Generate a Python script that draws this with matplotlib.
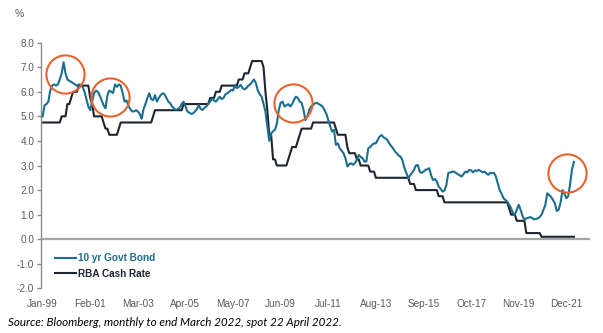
import matplotlib.pyplot as plt
import numpy as np

# 10 yr govt bond yield, monthly from Jan-99 (last value = spot Apr-22)
bond_10yr = [
    5.00, 5.45, 5.50, 5.60, 6.05, 6.25, 6.30, 6.25, 6.30, 6.50, 6.75, 7.20,   # 1999
    6.75, 6.50, 6.45, 6.40, 6.35, 6.30, 6.25, 6.30, 6.28, 6.20, 6.00, 5.70,   # 2000
    5.40, 5.25, 5.60, 5.95, 6.05, 6.00, 5.85, 5.65, 5.45, 5.33, 5.85, 6.05,   # 2001
    6.00, 5.95, 6.30, 6.20, 6.30, 6.25, 5.95, 5.60, 5.65, 5.45, 5.30, 5.20,   # 2002
    5.20, 5.25, 5.20, 5.10, 4.90, 5.30, 5.50, 5.75, 5.94, 5.70, 5.66, 5.86,   # 2003
    5.60, 5.75, 5.86, 5.94, 5.90, 5.75, 5.60, 5.53, 5.40, 5.33, 5.26, 5.30,   # 2004
    5.35, 5.50, 5.60, 5.40, 5.20, 5.15, 5.10, 5.12, 5.20, 5.30, 5.46, 5.30,   # 2005
    5.26, 5.35, 5.40, 5.53, 5.60, 5.73, 5.65, 5.60, 5.70, 5.80, 5.70, 5.75,   # 2006
    5.90, 5.94, 6.00, 6.07, 6.05, 6.28, 6.15, 6.20, 6.28, 6.15, 6.10, 6.15,   # 2007
    6.25, 6.30, 6.40, 6.50, 6.35, 6.05, 5.90, 5.80, 5.50, 5.20, 4.60, 4.00,   # 2008
    4.30, 4.40, 4.45, 4.70, 5.26, 5.55, 5.60, 5.40, 5.45, 5.50, 5.40, 5.50,   # 2009
    5.67, 5.80, 5.75, 5.60, 5.55, 5.26, 4.85, 5.00, 5.26, 5.40, 5.46, 5.53,   # 2010
    5.55, 5.50, 5.46, 5.40, 5.26, 5.10, 4.85, 4.60, 4.38, 4.45, 3.84, 3.90,   # 2011
    3.70, 3.60, 3.50, 3.30, 2.96, 3.05, 3.09, 3.03, 3.10, 3.23, 3.43, 3.35,   # 2012
    3.30, 3.16, 3.16, 3.70, 3.75, 3.84, 3.90, 3.90, 4.05, 4.18, 4.24, 4.15,   # 2013
    4.10, 4.04, 3.90, 3.80, 3.70, 3.57, 3.50, 3.40, 3.36, 3.20, 2.89, 2.70,   # 2014
    2.48, 2.60, 2.70, 2.82, 3.00, 3.02, 2.75, 2.70, 2.75, 2.82, 2.85, 2.89,   # 2015
    2.60, 2.41, 2.45, 2.35, 2.14, 2.05, 1.94, 1.98, 2.20, 2.69, 2.72, 2.75,   # 2016
    2.75, 2.70, 2.65, 2.60, 2.55, 2.65, 2.75, 2.72, 2.82, 2.80, 2.72, 2.80,   # 2017
    2.78, 2.82, 2.78, 2.72, 2.75, 2.68, 2.62, 2.70, 2.68, 2.70, 2.55, 2.28,   # 2018
    2.00, 1.85, 1.67, 1.60, 1.53, 1.40, 1.26, 1.06, 1.00, 1.20, 1.40, 1.20,   # 2019
    0.95, 0.79, 0.85, 0.87, 0.90, 0.87, 0.81, 0.82, 0.85, 0.90, 1.00, 1.20,   # 2020
    1.40, 1.87, 1.80, 1.72, 1.60, 1.45, 1.15, 1.20, 1.50, 2.00, 1.85, 1.67,   # 2021
    1.75, 2.25, 2.85, 3.15,                                                   # 2022
]

# RBA cash rate, monthly from Jan-99
rba_cash = [
    4.75, 4.75, 4.75, 4.75, 4.75, 4.75, 4.75, 4.75, 4.75, 4.75, 5.00, 5.00,   # 1999
    5.00, 5.50, 5.50, 5.75, 6.00, 6.00, 6.00, 6.25, 6.25, 6.25, 6.25, 6.25,   # 2000
    6.25, 5.75, 5.50, 5.00, 5.00, 5.00, 5.00, 5.00, 4.75, 4.50, 4.50, 4.25,   # 2001
    4.25, 4.25, 4.25, 4.25, 4.50, 4.75, 4.75, 4.75, 4.75, 4.75, 4.75, 4.75,   # 2002
    4.75, 4.75, 4.75, 4.75, 4.75, 4.75, 4.75, 4.75, 4.75, 4.75, 5.00, 5.25,   # 2003
    5.25, 5.25, 5.25, 5.25, 5.25, 5.25, 5.25, 5.25, 5.25, 5.25, 5.25, 5.25,   # 2004
    5.25, 5.25, 5.50, 5.50, 5.50, 5.50, 5.50, 5.50, 5.50, 5.50, 5.50, 5.50,   # 2005
    5.50, 5.50, 5.50, 5.50, 5.75, 5.75, 5.75, 6.00, 6.00, 6.00, 6.25, 6.25,   # 2006
    6.25, 6.25, 6.25, 6.25, 6.25, 6.25, 6.25, 6.50, 6.50, 6.50, 6.75, 6.75,   # 2007
    6.75, 7.00, 7.25, 7.25, 7.25, 7.25, 7.25, 7.25, 7.00, 6.00, 5.25, 4.25,   # 2008
    4.25, 3.25, 3.25, 3.00, 3.00, 3.00, 3.00, 3.00, 3.00, 3.25, 3.50, 3.75,   # 2009
    3.75, 3.75, 4.00, 4.25, 4.50, 4.50, 4.50, 4.50, 4.50, 4.50, 4.75, 4.75,   # 2010
    4.75, 4.75, 4.75, 4.75, 4.75, 4.75, 4.75, 4.75, 4.75, 4.75, 4.50, 4.25,   # 2011
    4.25, 4.25, 4.25, 4.25, 3.75, 3.50, 3.50, 3.50, 3.50, 3.25, 3.25, 3.00,   # 2012
    3.00, 3.00, 3.00, 3.00, 2.75, 2.75, 2.75, 2.50, 2.50, 2.50, 2.50, 2.50,   # 2013
    2.50, 2.50, 2.50, 2.50, 2.50, 2.50, 2.50, 2.50, 2.50, 2.50, 2.50, 2.50,   # 2014
    2.50, 2.25, 2.25, 2.25, 2.00, 2.00, 2.00, 2.00, 2.00, 2.00, 2.00, 2.00,   # 2015
    2.00, 2.00, 2.00, 2.00, 1.75, 1.75, 1.75, 1.50, 1.50, 1.50, 1.50, 1.50,   # 2016
    1.50, 1.50, 1.50, 1.50, 1.50, 1.50, 1.50, 1.50, 1.50, 1.50, 1.50, 1.50,   # 2017
    1.50, 1.50, 1.50, 1.50, 1.50, 1.50, 1.50, 1.50, 1.50, 1.50, 1.50, 1.50,   # 2018
    1.50, 1.50, 1.50, 1.50, 1.50, 1.25, 1.00, 1.00, 1.00, 0.75, 0.75, 0.75,   # 2019
    0.75, 0.75, 0.25, 0.25, 0.25, 0.25, 0.25, 0.25, 0.25, 0.25, 0.10, 0.10,   # 2020
    0.10, 0.10, 0.10, 0.10, 0.10, 0.10, 0.10, 0.10, 0.10, 0.10, 0.10, 0.10,   # 2021
    0.10, 0.10, 0.10, 0.10,                                                   # 2022
]

tick_labels = ['Jan-99', 'Feb-01', 'Mar-03', 'Apr-05', 'May-07', 'Jun-09',
               'Jul-11', 'Aug-13', 'Sep-15', 'Oct-17', 'Nov-19', 'Dec-21']

# highlighted spots (month index from Jan-99, yield level)
circle_month = [11.7, 35.3, 131.4, 275.2]
circle_level = [6.72, 5.78, 5.53, 2.70]

plt.rcParams['font.family'] = ['Liberation Sans', 'DejaVu Sans']

BLUE = '#1b6e8e'
DARK = '#1f2530'
ORANGE = '#e8642c'
GREY_TXT = '#595959'

fig = plt.figure(figsize=(6.03, 3.33), dpi=100)
ax = fig.add_axes([0.0685, 0.134, 0.9095, 0.738])

months_b = np.arange(len(bond_10yr))
months_c = np.arange(len(rba_cash))

ax.axhline(0, color='#a6a6a6', lw=1.6, zorder=1)
ax.plot(months_b, bond_10yr, color=BLUE, lw=1.5, label='10 yr Govt Bond', zorder=3)
ax.plot(months_c, rba_cash, color=DARK, lw=1.5, label='RBA Cash Rate', zorder=2)

ax.plot(circle_month, circle_level, linestyle='none', marker='o', markersize=27.5,
        markerfacecolor='none', markeredgecolor=ORANGE, markeredgewidth=1.5, zorder=4)

ax.set_xlim(-0.7, 287.3)
ax.set_ylim(-2, 8)
ax.set_yticks(np.arange(-2, 8.1, 1))
ax.set_yticklabels([f'{v:.1f}' for v in np.arange(-2, 8.1, 1)])
ax.set_xticks(np.arange(0, 276, 25))
ax.set_xticklabels(tick_labels)

for s in ['top', 'right', 'bottom']:
    ax.spines[s].set_visible(False)
ax.spines['left'].set_color('#8c8c8c')
ax.spines['left'].set_linewidth(1)

ax.tick_params(axis='y', direction='out', length=3, width=1, color='#8c8c8c',
               labelsize=7.2, labelcolor=GREY_TXT, pad=2)
ax.tick_params(axis='x', length=0, labelsize=7.2, labelcolor=GREY_TXT, pad=8)

leg = ax.legend(loc='lower left', bbox_to_anchor=(0.012, 0.01), frameon=False,
                handlelength=2.1, handletextpad=0.25, labelspacing=0.55,
                prop={'size': 7.2, 'weight': 'bold'}, borderaxespad=0.3)
for txt, col in zip(leg.get_texts(), [BLUE, DARK]):
    txt.set_color(col)

fig.text(15 / 603, 1 - 14 / 333, '%', fontsize=7.5, color=GREY_TXT, va='center')
fig.text(8 / 603, 1 - 322 / 333, 'Source: Bloomberg, monthly to end March 2022, spot 22 April 2022.',
         fontsize=8.4, style='italic', color='black', va='center', family=['Lato', 'DejaVu Sans'])

fig.savefig('out.png', dpi=100)
